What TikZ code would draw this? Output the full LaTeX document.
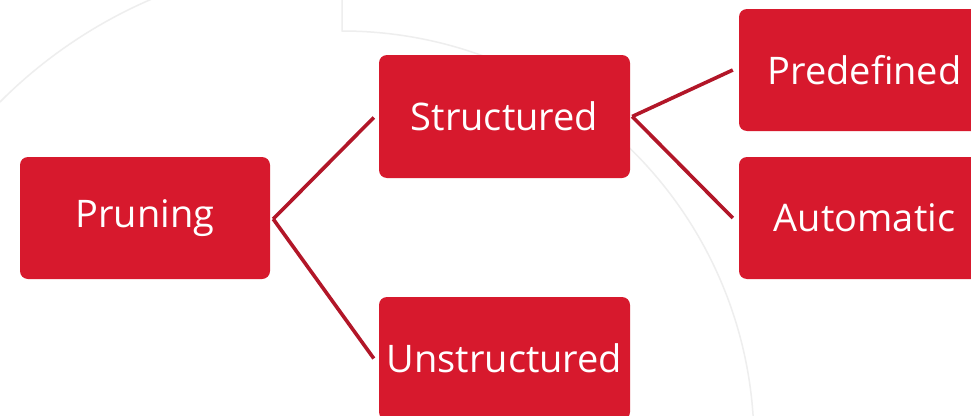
\documentclass[tikz,border=0pt]{standalone}
\usepackage{fontspec}
\setmainfont{Open Sans}
\usetikzlibrary{calc}
\definecolor{boxred}{RGB}{215,25,45}
\definecolor{linkred}{RGB}{178,22,40}
\definecolor{faint}{RGB}{238,238,238}
\tikzset{
  box/.style={fill=boxred, rounded corners=8pt, minimum width=251pt, minimum height=123pt,
    inner sep=0pt, text=white, font=\fontsize{38}{44}\selectfont},
  link/.style={draw=linkred, line width=3.6pt},
  deco/.style={draw=faint, line width=1.5pt}
}
\begin{document}
\begin{tikzpicture}[x=1pt,y=-1pt]
\useasboundingbox (0,0) rectangle (971,415);
\clip (0,0) rectangle (971,415);
\fill[white] (0,0) rectangle (971,415);
% faint background arcs
\coordinate (c) at (342,443);
\draw[deco] (342,-5) -- ($(c)+(-90:412)$) arc[start angle=-90, end angle=5, radius=412];
\draw[deco] ($(c)+(-145:483)$) arc[start angle=-145, end angle=-100, radius=483];
% boxes
\node[box, minimum width=250pt, minimum height=122pt] (p) at (145,218) {Pruning};
\node[box] (s) at (504.5,116.5) {Structured};
\node[box] (u) at (504.5,358.5) {Unstructured};
\node[box, minimum height=122pt] (pd) at (864.5,70) {Predefined};
\node[box, minimum height=122pt] (a) at (864.5,218) {Automatic};
% connectors
\draw[link] ([xshift=3pt,yshift=-1pt]p.east) -- ([xshift=-5pt,yshift=-1pt]s.west);
\draw[link] ([xshift=3pt,yshift=-1pt]p.east) -- ([xshift=-5pt]u.west);
\draw[link] ([xshift=2pt]s.east) -- ([xshift=-6pt]pd.west);
\draw[link] ([xshift=2pt]s.east) -- ([xshift=-6pt]a.west);
\end{tikzpicture}
\end{document}
